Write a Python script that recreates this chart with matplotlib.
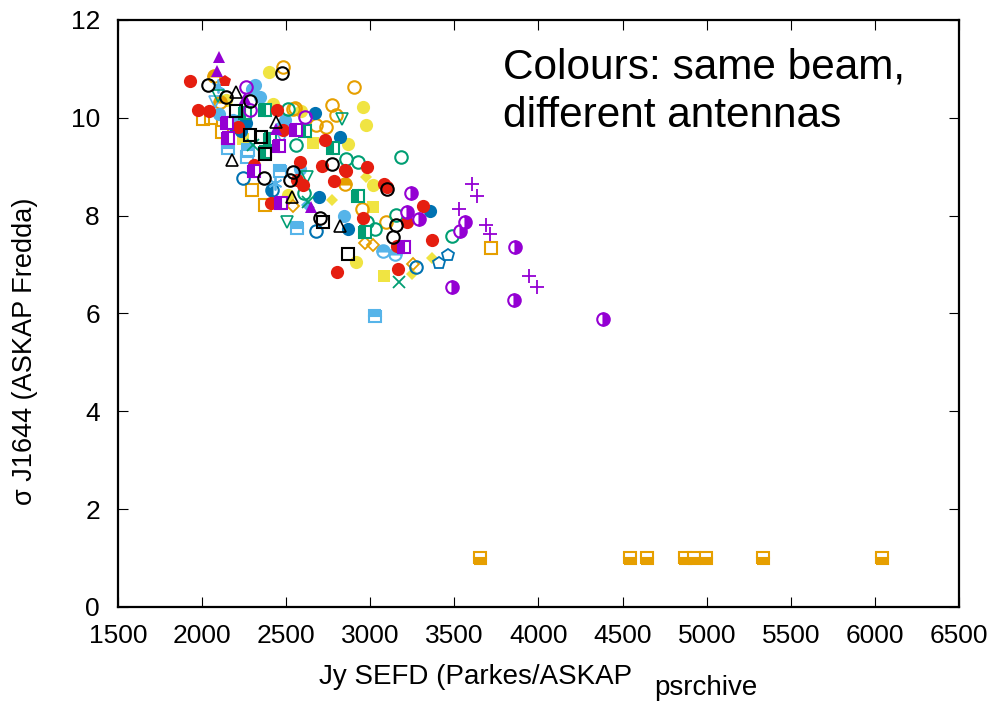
import matplotlib
matplotlib.use("Agg")
import matplotlib.pyplot as plt

plt.rcParams["font.family"] = ["Liberation Sans", "DejaVu Sans"]

# colours used by the gnuplot default palette
RED, BLACK, PURPLE, GREEN = "#e51e10", "black", "#9400d3", "#009e73"
LBLUE, BLUE, ORANGE, YELLOW = "#56b4e9", "#0072b2", "#e69f00", "#f0e442"

# ---- data (SEFD in Jy, sigma) ----
red_dot_x = [1928, 1975, 2040, 2213, 2308, 2408, 2444, 2480, 2563, 2581, 2598, 2711, 2729,
             2783, 2848, 2854, 2955, 2979, 3079, 3097, 3157, 3163, 3216, 3311, 3365, 2800]
red_dot_y = [10.76, 10.16, 10.14, 9.82, 9.04, 8.26, 10.16, 9.75, 8.73, 9.10, 8.63, 9.02, 9.55,
             8.71, 8.94, 8.92, 7.95, 9.00, 8.65, 8.59, 7.38, 6.91, 7.87, 8.20, 7.50, 6.85]
red_pent_x = [2135]
red_pent_y = [10.76]

black_ring_x = [2474, 2141, 2284, 2034, 2367, 2521, 2539, 2771, 2700, 3100, 3151, 3133]
black_ring_y = [10.92, 10.43, 10.35, 10.67, 8.77, 8.73, 8.90, 9.06, 7.95, 8.55, 7.81, 7.57]
black_tri_x = [2200, 2177, 2438, 2533, 2818]
black_tri_y = [10.53, 9.14, 9.92, 8.38, 7.79]
black_sq_x = [2200, 2284, 2349, 2373, 2866, 2717]
black_sq_y = [10.14, 9.65, 9.61, 9.26, 7.22, 7.87]

purple_tri_x = [2100, 2088, 2254, 2646, 2438]
purple_tri_y = [11.25, 10.96, 10.41, 8.18, 9.78]
purple_ring_x = [2260, 2610, 2284]
purple_ring_y = [10.63, 10.02, 10.16]
purple_half_x = [3240, 3287, 3566, 3531, 3863, 3483, 3857, 4386, 3216]
purple_half_y = [8.47, 7.93, 7.87, 7.69, 7.36, 6.54, 6.28, 5.89, 8.08]
purple_plus_x = [3602, 3632, 3525, 3685, 3709, 3946, 3994]
purple_plus_y = [8.65, 8.40, 8.14, 7.81, 7.63, 6.77, 6.54]
purple_sq_x = [2147, 2153, 2456, 2308, 2468, 3199, 2557]
purple_sq_y = [9.90, 9.59, 9.43, 8.92, 8.26, 7.36, 9.75]

green_ring_x = [2854, 2925, 3180, 2604, 2979, 3026, 3151, 3483, 2557, 2509]
green_ring_y = [9.16, 9.10, 9.20, 8.47, 7.88, 7.73, 8.02, 7.59, 9.45, 10.18]
green_sq_x = [2254, 2373, 2925, 2777, 2403, 2610, 2373, 2967]
green_sq_y = [10.10, 10.16, 8.40, 9.39, 9.57, 9.73, 9.30, 7.67]
green_tri_x = [2830, 2094, 2622, 2503]
green_tri_y = [9.98, 10.45, 8.79, 7.87]
green_x_x = [3168, 2628, 2300]
green_x_y = [6.65, 8.28, 9.45]

lblue_dot_x = [2314, 2296, 2343, 2100, 2462, 2491, 2842, 2184, 2580]
lblue_dot_y = [10.67, 10.59, 10.43, 10.08, 9.80, 9.96, 8.00, 9.95, 8.95]
lblue_half_x = [3074, 3145]
lblue_half_y = [7.28, 7.22]
lblue_sq_x = [3027, 2153, 2266, 2563, 2272, 2462]
lblue_sq_y = [5.95, 9.39, 9.20, 7.75, 9.35, 8.92]
lblue_star_x = [2094, 2432]
lblue_star_y = [10.65, 8.67]
lblue_tri_x = [2076, 2474]
lblue_tri_y = [10.33, 9.61]
lblue_dia_x = [2622]
lblue_dia_y = [8.22]

blue_dot_x = [2213, 2195, 2260, 2670, 2818, 2694, 3352, 2866, 2230]
blue_dot_y = [9.94, 9.82, 9.90, 10.10, 9.61, 8.38, 8.10, 7.73, 9.72]
blue_half_x = [2414]
blue_half_y = [8.53]
blue_ring_x = [2242, 2676, 3270]
blue_ring_y = [8.77, 7.69, 6.95]
blue_pent_x = [3406, 3459]
blue_pent_y = [7.03, 7.20]

orange_ring_x = [2901, 2771, 2795, 2676, 2735, 2539, 2480, 2551, 3091, 2949]
orange_ring_y = [10.63, 10.27, 10.06, 9.86, 9.82, 10.18, 11.04, 10.20, 7.88, 8.14]
orange_half_x = [2070, 2848, 2106]
orange_half_y = [10.86, 8.65, 10.33]
orange_sq_x = [2005, 2053, 2118, 2296, 2373, 3715]
orange_sq_y = [9.98, 10.00, 9.71, 8.53, 8.22, 7.34]
orange_low_x = [3650, 4546, 4647, 4873, 4926, 4997, 5336, 6043]
orange_low_y = [1.0, 1.0, 1.0, 1.0, 1.0, 1.0, 1.0, 1.0]
orange_dia_x = [2539, 2967, 3014, 3252]
orange_dia_y = [8.20, 7.44, 7.40, 7.01]

yellow_dot_x = [2397, 2955, 2973, 2866, 2587, 2420, 2141, 2913, 3014, 2510]
yellow_dot_y = [10.94, 10.22, 9.86, 9.47, 10.14, 10.29, 10.37, 7.05, 8.63, 8.43]
yellow_sq_x = [2658, 3014, 3080, 2242]
yellow_sq_y = [9.49, 8.18, 6.77, 9.57]
yellow_dia_x = [2973, 2771, 3365, 3246]
yellow_dia_y = [8.79, 8.32, 7.14, 6.81]

# marker styles
DOT = dict(marker="o", ms=9.5, mew=0)
RING = dict(marker="o", ms=9, fillstyle="none", mew=1.5)
HALF = dict(marker="o", ms=9, fillstyle="right", markerfacecoloralt="white", mew=1.5)
TOPH = dict(marker="o", ms=9, fillstyle="top", markerfacecoloralt="white", mew=1.5)
SQ = dict(marker="s", ms=8.5, fillstyle="none", mew=1.5)
SQL = dict(marker="s", ms=8.5, fillstyle="left", markerfacecoloralt="white", mew=1.5)
SQT = dict(marker="s", ms=8.5, fillstyle="top", markerfacecoloralt="white", mew=1.5)
SQB = dict(marker="s", ms=8, fillstyle="bottom", markerfacecoloralt="white", mew=1.5)
FSQ = dict(marker="s", ms=8.5, mew=0)
TRI = dict(marker="^", ms=9, fillstyle="none", mew=1.2)
FTRI = dict(marker="^", ms=9, mew=0)
TRID = dict(marker="v", ms=9, fillstyle="none", mew=1.2)
DIA = dict(marker="D", ms=6.5, fillstyle="none", mew=1.3)
FDIA = dict(marker="D", ms=6.5, mew=0)
PENT = dict(marker="p", ms=9, fillstyle="none", mew=1.3)
FPENT = dict(marker="p", ms=9, mew=0)
PLUS = dict(marker="+", ms=10, mew=1.3)
CROSS = dict(marker="x", ms=8, mew=1.3)
STAR = dict(marker=(6, 2, 0), ms=10, mew=1.3)

series = [
    (orange_low_x, orange_low_y, ORANGE, SQB),
    (yellow_dot_x, yellow_dot_y, YELLOW, DOT),
    (yellow_sq_x, yellow_sq_y, YELLOW, FSQ),
    (yellow_dia_x, yellow_dia_y, YELLOW, FDIA),
    (orange_ring_x, orange_ring_y, ORANGE, RING),
    (orange_half_x, orange_half_y, ORANGE, TOPH),
    (orange_sq_x, orange_sq_y, ORANGE, SQ),
    (orange_dia_x, orange_dia_y, ORANGE, DIA),
    (blue_dot_x, blue_dot_y, BLUE, DOT),
    (blue_half_x, blue_half_y, BLUE, dict(HALF, fillstyle="left")),
    (blue_ring_x, blue_ring_y, BLUE, RING),
    (blue_pent_x, blue_pent_y, BLUE, PENT),
    (lblue_dot_x, lblue_dot_y, LBLUE, DOT),
    (lblue_half_x, lblue_half_y, LBLUE, TOPH),
    (lblue_sq_x, lblue_sq_y, LBLUE, SQT),
    (lblue_star_x, lblue_star_y, LBLUE, STAR),
    (lblue_tri_x, lblue_tri_y, LBLUE, TRID),
    (lblue_dia_x, lblue_dia_y, LBLUE, FDIA),
    (green_ring_x, green_ring_y, GREEN, RING),
    (green_sq_x, green_sq_y, GREEN, SQL),
    (green_tri_x, green_tri_y, GREEN, TRID),
    (green_x_x, green_x_y, GREEN, CROSS),
    (red_dot_x, red_dot_y, RED, DOT),
    (red_pent_x, red_pent_y, RED, FPENT),
    (purple_tri_x, purple_tri_y, PURPLE, FTRI),
    (purple_ring_x, purple_ring_y, PURPLE, RING),
    (purple_half_x, purple_half_y, PURPLE, HALF),
    (purple_plus_x, purple_plus_y, PURPLE, PLUS),
    (purple_sq_x, purple_sq_y, PURPLE, SQL),
    (black_ring_x, black_ring_y, BLACK, RING),
    (black_tri_x, black_tri_y, BLACK, TRI),
    (black_sq_x, black_sq_y, BLACK, SQ),
]

fig = plt.figure(figsize=(9.94, 7.03), dpi=100)
ax = fig.add_axes([0.1187, 0.1366, 0.8461, 0.835])

for xs, ys, col, st in series:
    ax.plot(xs, ys, ls="none", color=col, **st)

ax.set_xlim(1500, 6500)
ax.set_ylim(0, 12)
ax.set_xticks(range(1500, 6501, 500))
ax.set_yticks(range(0, 13, 2))
ax.tick_params(direction="in", length=7, width=0.8, top=True, right=True,
               labelsize=19)
ax.tick_params(axis="x", pad=12)
ax.tick_params(axis="y", pad=13)
for sp in ax.spines.values():
    sp.set_linewidth(1.6)

ax.text(-0.11, 0.435, "σ J1644 (ASKAP Fredda)", transform=ax.transAxes,
        rotation=90, ha="center", va="center", fontsize=19.5)
ax.text(0.425, -0.119, "Jy SEFD (Parkes/ASKAP", transform=ax.transAxes,
        ha="center", va="center", fontsize=20)
ax.text(0.638, -0.138, "psrchive", transform=ax.transAxes,
        ha="left", va="center", fontsize=20)
ax.text(3790, 10.53, "Colours: same beam,\ndifferent antennas", fontsize=30.5,
        ha="left", va="center", linespacing=1.25)

fig.savefig("out.png", dpi=100)
